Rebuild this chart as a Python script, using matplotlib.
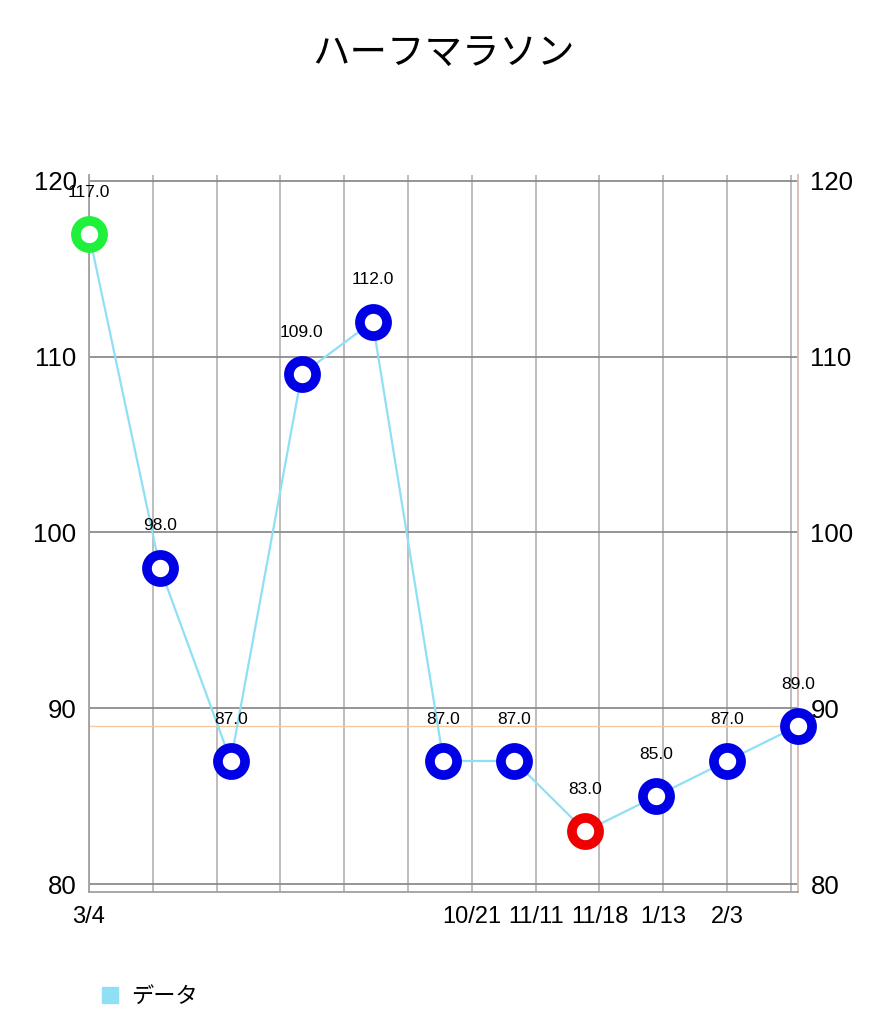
import matplotlib
matplotlib.use('Agg')
from matplotlib import pyplot as plt
from matplotlib.patches import Patch

plt.rcParams['font.family'] = ['Liberation Sans', 'Noto Sans CJK JP', 'DejaVu Sans']

title = 'ハーフマラソン'
series_name = 'データ'
times = [117, 98, 87, 109, 112, 87, 87, 83, 85, 87, 89]
tick_labels = ['3/4', '', '', '', '', '', '10/21', '11/11', '11/18', '1/13', '2/3', '']
y_ticks = [80, 90, 100, 110, 120]

line_color = '#8fdff5'
fig = plt.figure(figsize=(8.87, 10.24), dpi=100)
ax = fig.add_axes([89 / 887, 132 / 1024, 709 / 887, 717 / 1024])

x = list(range(len(times)))
best = times.index(min(times))
colors = ['#0000e6'] * len(times)
colors[0] = '#1ef03c'
colors[best] = '#f00000'

ax.axhline(times[-1], color='#f5c9a0', lw=1.0, zorder=2)
ax.plot(x, times, color=line_color, lw=1.6, zorder=3, clip_on=False)
for xi, yi, c in zip(x, times, colors):
    ax.plot(xi, yi, 'o', ms=19.5, mfc='white', mec=c, mew=7.0, zorder=4, clip_on=False)
    ax.annotate(f'{yi:.1f}', (xi, yi), xytext=(0, 30), textcoords='offset points',
                ha='center', va='center', fontsize=12.5, zorder=5)

ax.set_xlim(0, 10)
ax.set_ylim(79.545, 120.34)
grid_x = [k * 0.9 for k in range(len(tick_labels))]
ax.set_xticks(grid_x)
ax.set_xticklabels(tick_labels, fontsize=17)
ax.set_yticks(y_ticks)
ax.set_yticklabels([str(v) for v in y_ticks], fontsize=18.5)
ax.tick_params(axis='x', length=0, pad=10)
ax.tick_params(axis='y', length=0, pad=9)
for gx in grid_x:
    ax.axvline(gx, color='#bdbdbd', lw=1.4, zorder=1)
for gy in y_ticks:
    ax.axhline(gy, color='#8c8c8c', lw=1.3, zorder=1)

ax.spines['top'].set_visible(False)
ax.spines['left'].set_color('#a0a0a0')
ax.spines['bottom'].set_color('#a0a0a0')
ax.spines['right'].set_color('#d6bcb2')
for s in ['left', 'bottom', 'right']:
    ax.spines[s].set_linewidth(1.3)

ax2 = ax.twinx()
ax2.set_ylim(ax.get_ylim())
ax2.set_yticks(y_ticks)
ax2.set_yticklabels([str(v) for v in y_ticks], fontsize=18.5)
ax2.tick_params(axis='y', length=0, pad=9)
for s in ax2.spines.values():
    s.set_visible(False)

fig.text(0.5, 1 - 54 / 1024, title, ha='center', va='center', fontsize=27)

fig.legend(handles=[Patch(color=line_color)], labels=[series_name], loc='center left',
           bbox_to_anchor=(82 / 887, 1 - 997 / 1024), frameon=False, fontsize=16,
           handlelength=0.72, handleheight=0.72, handletextpad=0.6)

fig.savefig('out.png', dpi=100)
